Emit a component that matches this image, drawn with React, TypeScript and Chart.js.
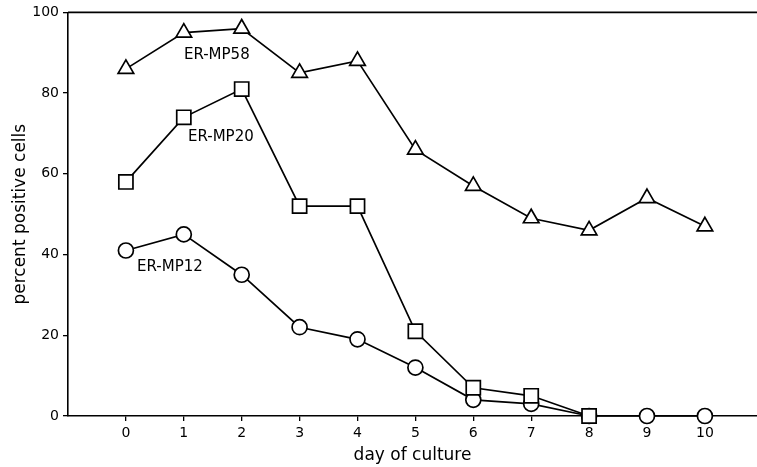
import { useEffect, useRef } from 'react';
import { Chart, registerables } from 'chart.js';

Chart.register(...registerables);

// Culture days on the x axis
const days = [0, 1, 2, 3, 4, 5, 6, 7, 8, 9, 10];
// Percent positive cells per marker, by day
const erMp58 = [86, 95, 96, 85, 88, 66, 57, 49, 46, 54, 47];
const erMp20 = [58, 74, 81, 52, 52, 21, 7, 5, 0];
const erMp12 = [41, 45, 35, 22, 19, 12, 4, 3, 0, 0, 0];
const yTickValues = [0, 20, 40, 60, 80, 100];

const FONT = "'DejaVu Sans', 'Liberation Sans', Arial, sans-serif";

// Series names written next to their curves, anchored in data units
const seriesNotes = [
  { text: 'ER-MP58', x: 1.57, y: 89.4 },
  { text: 'ER-MP20', x: 1.64, y: 69 },
  { text: 'ER-MP12', x: 0.76, y: 36.9 },
];

const toPoints = (vals: number[]) => vals.map((v, i) => ({ x: days[i], y: v }));

const framePlugin = {
  id: 'frameAndNotes',
  afterDatasetsDraw(chart: any) {
    const { ctx, chartArea, scales } = chart;
    ctx.save();
    // top frame line
    ctx.strokeStyle = '#000';
    ctx.lineWidth = 1.6;
    ctx.beginPath();
    ctx.moveTo(chartArea.left, chartArea.top);
    ctx.lineTo(chartArea.right, chartArea.top);
    ctx.stroke();
    // series notes
    ctx.fillStyle = '#000';
    ctx.font = `15px ${FONT}`;
    ctx.textAlign = 'center';
    ctx.textBaseline = 'middle';
    for (const n of seriesNotes) {
      ctx.fillText(n.text, scales.x.getPixelForValue(n.x), scales.y.getPixelForValue(n.y));
    }
    ctx.restore();
  },
};

const seriesStyle = {
  borderColor: '#000',
  borderWidth: 1.7,
  pointBackgroundColor: '#fff',
  pointBorderColor: '#000',
  pointBorderWidth: 1.7,
  fill: false,
  tension: 0,
  clip: false as const,
};

export default function App() {
  const ref = useRef<HTMLCanvasElement>(null);

  useEffect(() => {
    const canvas = ref.current;
    if (!canvas) return;
    const chart = new Chart(canvas, {
      type: 'line',
      data: {
        datasets: [
          { ...seriesStyle, label: 'ER-MP58', data: toPoints(erMp58), pointStyle: 'triangle', pointRadius: 9 },
          { ...seriesStyle, label: 'ER-MP20', data: toPoints(erMp20), pointStyle: 'rect', pointRadius: 10 },
          { ...seriesStyle, label: 'ER-MP12', data: toPoints(erMp12), pointStyle: 'circle', pointRadius: 7.5 },
        ],
      },
      options: {
        animation: false,
        responsive: false,
        maintainAspectRatio: false,
        layout: { autoPadding: false, padding: { top: 12, right: 0, left: 0, bottom: 0 } },
        plugins: { legend: { display: false }, tooltip: { enabled: false } },
        scales: {
          x: {
            type: 'linear',
            min: -1,
            max: 10.9,
            afterBuildTicks: (s: any) => {
              s.ticks = days.map((v) => ({ value: v }));
            },
            afterFit: (s: any) => {
              s.height = 51;
            },
            ticks: {
              color: '#000',
              font: { family: FONT, size: 14 },
              padding: 4,
              maxRotation: 0,
              autoSkip: false,
            },
            grid: { drawOnChartArea: false, drawTicks: true, tickLength: 5, color: '#000', lineWidth: 1.3 },
            border: { display: true, color: '#000', width: 1.6 },
            title: {
              display: true,
              text: 'day of culture',
              color: '#000',
              font: { family: FONT, size: 17 },
              padding: { top: 1, bottom: 1 },
            },
          },
          y: {
            type: 'linear',
            min: 0,
            max: 100,
            afterBuildTicks: (s: any) => {
              s.ticks = yTickValues.map((v) => ({ value: v }));
            },
            afterFit: (s: any) => {
              s.width = 68;
            },
            ticks: {
              color: '#000',
              font: { family: FONT, size: 14 },
              padding: 4,
            },
            grid: { drawOnChartArea: false, drawTicks: true, tickLength: 5, color: '#000', lineWidth: 1.3 },
            border: { display: true, color: '#000', width: 1.6 },
            title: {
              display: true,
              text: 'percent positive cells',
              color: '#000',
              font: { family: FONT, size: 17 },
              padding: { top: 10, bottom: 10 },
            },
          },
        },
      },
      plugins: [framePlugin],
    });
    return () => chart.destroy();
  }, []);

  return (
    <div style={{ position: 'fixed', left: 0, top: 0, width: 757, height: 467, background: '#fff' }}>
      <canvas ref={ref} width={757} height={467} style={{ width: 757, height: 467, display: 'block' }} />
    </div>
  );
}
